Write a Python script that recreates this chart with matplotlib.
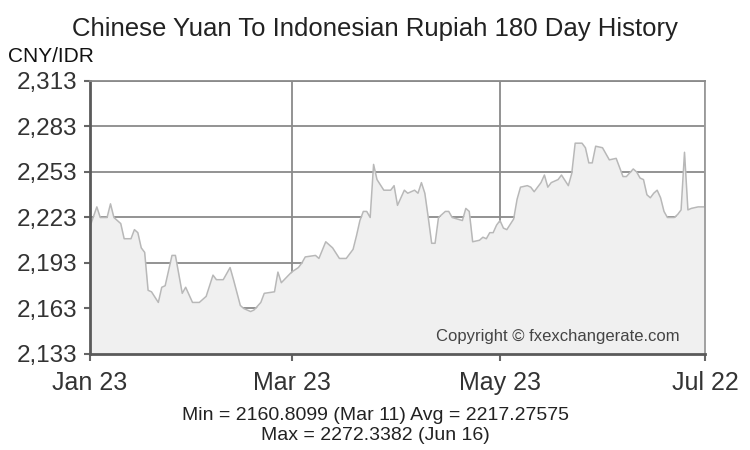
import matplotlib
matplotlib.use("Agg")
import matplotlib.pyplot as plt
from matplotlib.ticker import FuncFormatter

plt.rcParams['font.family'] = ['Liberation Sans', 'DejaVu Sans']

title = "Chinese Yuan To Indonesian Rupiah 180 Day History"
y_label = "CNY/IDR"

# day offsets from Jan 23 and CNY/IDR rates
days = [0, 2, 3, 5, 6, 7, 9, 10, 12, 13, 14, 15, 16, 17, 18, 20, 21, 22, 24, 25,
        27, 28, 30, 32, 34, 36, 37, 39, 41, 42, 44, 45, 46, 47, 48, 50, 51, 54, 55, 56,
        59, 61, 62, 63, 66, 67, 69, 71, 73, 75, 77, 78, 79, 80, 81, 82, 83, 84, 86, 88,
        89, 90, 92, 93, 95, 96, 97, 98, 99, 100, 101, 102, 104, 105, 106, 109, 110, 111, 112, 114,
        115, 116, 117, 118, 119, 120, 121, 122, 124, 125, 126, 128, 129, 130, 132, 133, 134, 135, 137, 138,
        140, 141, 142, 144, 145, 146, 147, 148, 150, 151, 152, 154, 155, 156, 157, 159, 160, 161, 162, 163,
        164, 165, 166, 167, 168, 169, 171, 172, 173, 174, 175, 176, 178, 180]
rates = [2217, 2230, 2223, 2223, 2232, 2223, 2219, 2209, 2209, 2215, 2213, 2203, 2200, 2175, 2174, 2167, 2177, 2178, 2198, 2198,
         2173, 2177, 2167, 2167, 2171, 2185, 2182, 2182, 2190, 2182, 2165, 2163, 2162, 2161, 2162, 2167, 2173, 2174, 2187, 2180,
         2187, 2190, 2193, 2197, 2198, 2196, 2207, 2203, 2196, 2196, 2202, 2211, 2221, 2227, 2227, 2223, 2258, 2248, 2241, 2241,
         2244, 2231, 2241, 2239, 2241, 2239, 2246, 2239, 2223, 2206, 2206, 2223, 2227, 2227, 2223, 2221, 2229, 2227, 2207, 2208,
         2210, 2209, 2213, 2213, 2218, 2221, 2216, 2215, 2222, 2235, 2243, 2244, 2243, 2240, 2246, 2251, 2243, 2246, 2248, 2251,
         2244, 2252, 2272, 2272, 2269, 2259, 2259, 2270, 2269, 2265, 2261, 2262, 2256, 2250, 2250, 2255, 2253, 2249, 2248, 2238,
         2236, 2239, 2241, 2236, 2227, 2223, 2223, 2225, 2228, 2266, 2228, 2229, 2230, 2230]

y_ticks = [2133, 2163, 2193, 2223, 2253, 2283, 2313]
x_ticks = [0, 59, 120, 180]
x_tick_labels = ["Jan 23", "Mar 23", "May 23", "Jul 22"]
stats_line1 = "Min = 2160.8099 (Mar 11) Avg = 2217.27575"
stats_line2 = "Max = 2272.3382 (Jun 16)"
copyright_text = "Copyright \u00a9 fxexchangerate.com"

fig = plt.figure(figsize=(7.5, 4.5), dpi=100)
ax = fig.add_axes([90/750, 1-354/450, 615/750, 273/450])
ax.set_axisbelow(True)

ax.fill_between(days, rates, y_ticks[0], color='#f0f0f0', zorder=1, linewidth=0)
ax.plot(days, rates, color='#b8b8b8', lw=1.1, zorder=2)

ax.set_xlim(x_ticks[0], x_ticks[-1])
ax.set_ylim(y_ticks[0], y_ticks[-1])
ax.set_yticks(y_ticks)
ax.set_xticks(x_ticks)
ax.set_xticklabels(x_tick_labels)
ax.yaxis.set_major_formatter(FuncFormatter(lambda v, p: f"{int(round(v)):,}"))
ax.grid(True, color='#8a8a8a', lw=1.3)

ax.tick_params(axis='y', length=4, width=1.5, color='#666', labelsize=17.5, labelcolor='#333', pad=5)
ax.tick_params(axis='x', length=5, width=1.5, color='#666', labelsize=18, labelcolor='#333', pad=7)

for s in ['left', 'bottom']:
    ax.spines[s].set_color('#5a5a5a')
    ax.spines[s].set_linewidth(2)
ax.spines['top'].set_color('#8a8a8a')
ax.spines['top'].set_linewidth(1.3)
ax.spines['right'].set_color('#9a9a9a')
ax.spines['right'].set_linewidth(1.3)

ax.text(0.958, 0.065, copyright_text, transform=ax.transAxes, ha='right', va='center',
        fontsize=12, color='#444', zorder=3)

fig.text(375/750, 1-29/450, title, ha='center', va='center', fontsize=18.5, color='#222')
fig.text(8/750, 1-57/450, y_label, ha='left', va='center', fontsize=15, color='#111')
fig.text(375/750, 1-415/450, stats_line1, ha='center', va='center', fontsize=14, color='#222')
fig.text(375/750, 1-436/450, stats_line2, ha='center', va='center', fontsize=14, color='#222')

fig.savefig("out.png", dpi=100)
